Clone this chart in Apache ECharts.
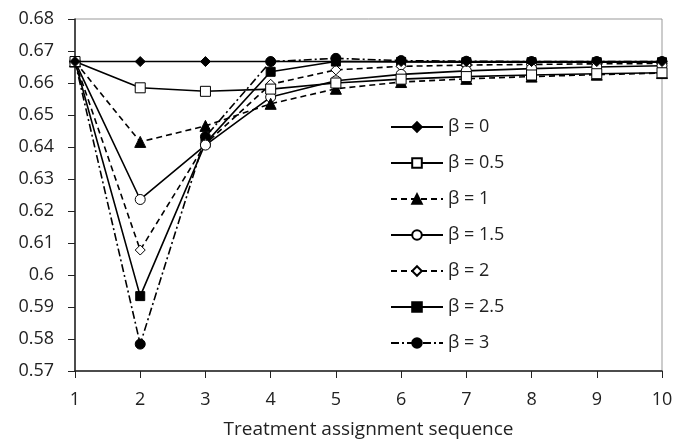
<!DOCTYPE html>
<html>
<head>
<meta charset="utf-8">
<script src="https://cdn.jsdelivr.net/npm/echarts@6/dist/echarts.min.js"></script>
<style>html,body{margin:0;padding:0;background:#fff}#c{width:675px;height:439px}</style>
</head>
<body>
<div id="c"></div>
<script>
const xValues = [1, 2, 3, 4, 5, 6, 7, 8, 9, 10];
const seriesNames = ['β = 0', 'β = 0.5', 'β = 1', 'β = 1.5', 'β = 2', 'β = 2.5', 'β = 3'];
const beta0  = [0.6667, 0.6667, 0.6667, 0.6667, 0.6667, 0.6667, 0.6667, 0.6667, 0.6667, 0.6667];
const beta05 = [0.6667, 0.6585, 0.6574, 0.6581, 0.6600, 0.6612, 0.6620, 0.6625, 0.6629, 0.6632];
const beta1  = [0.6667, 0.6416, 0.6466, 0.6535, 0.6582, 0.6603, 0.6613, 0.6620, 0.6626, 0.6631];
const beta15 = [0.6667, 0.6236, 0.6406, 0.6556, 0.6607, 0.6627, 0.6638, 0.6645, 0.6650, 0.6654];
const beta2  = [0.6667, 0.6078, 0.6410, 0.6596, 0.6641, 0.6652, 0.6656, 0.6658, 0.6660, 0.6661];
const beta25 = [0.6667, 0.5934, 0.6412, 0.6635, 0.6667, 0.6666, 0.6665, 0.6665, 0.6665, 0.6665];
const beta3  = [0.6667, 0.5784, 0.6432, 0.6667, 0.6677, 0.6670, 0.6668, 0.6667, 0.6667, 0.6667];
const allValues = [beta0, beta05, beta1, beta15, beta2, beta25, beta3];

const styles = [
  {symbol: 'diamond', size: 10, fill: '#000', dash: 'solid'},
  {symbol: 'rect', size: 10, fill: '#fff', dash: 'solid'},
  {symbol: 'triangle', size: 11, fill: '#000', dash: [6, 4]},
  {symbol: 'circle', size: 10, fill: '#fff', dash: 'solid'},
  {symbol: 'diamond', size: 10, fill: '#fff', dash: [6, 4]},
  {symbol: 'rect', size: 9, fill: '#000', dash: 'solid'},
  {symbol: 'circle', size: 10, fill: '#000', dash: [8, 3, 2, 3]}
];

const font = '"Open Sans", sans-serif';
const series = seriesNames.map((name, i) => ({
  name: name,
  type: 'line',
  data: xValues.map((x, j) => [x, allValues[i][j]]),
  symbol: styles[i].symbol,
  symbolSize: styles[i].size,
  showAllSymbol: true,
  lineStyle: {color: '#000', width: 1.6, type: styles[i].dash},
  itemStyle: {color: styles[i].fill, borderColor: '#000', borderWidth: 1},
  emphasis: {disabled: true},
  z: 10 - i
}));

const chart = echarts.init(document.getElementById('c'), null, {renderer: 'canvas'});
chart.setOption({
  animation: false,
  backgroundColor: '#fff',
  grid: {left: 75, right: 13, top: 19, bottom: 68, show: true, borderColor: '#999', borderWidth: 1,
    containLabel: false, outerBoundsMode: 'none'},
  xAxis: {
    type: 'value', min: 1, max: 10, interval: 1,
    name: 'Treatment assignment sequence', nameLocation: 'middle', nameGap: 49,
    nameTextStyle: {fontFamily: font, fontSize: 19, color: '#222'},
    axisLine: {lineStyle: {color: '#222', width: 1.5}},
    axisTick: {show: true, length: 7, lineStyle: {color: '#222'}},
    axisLabel: {fontFamily: font, fontSize: 18, color: '#222', margin: 20},
    splitLine: {show: false}
  },
  yAxis: {
    type: 'value', min: 0.57, max: 0.68, interval: 0.01,
    axisLine: {show: true, lineStyle: {color: '#222', width: 1.5}},
    axisTick: {show: true, length: 7, lineStyle: {color: '#222'}},
    axisLabel: {fontFamily: font, fontSize: 18, color: '#222', margin: 21,
      formatter: v => String(+v.toFixed(2))},
    splitLine: {show: false}
  },
  legend: {
    orient: 'vertical', left: 385, top: 113,
    itemWidth: 52, itemHeight: 12, itemGap: 18,
    textStyle: {fontFamily: font, fontSize: 18, lineHeight: 18, color: '#222'},
    data: seriesNames
  },
  series: series
});
</script>
</body>
</html>
